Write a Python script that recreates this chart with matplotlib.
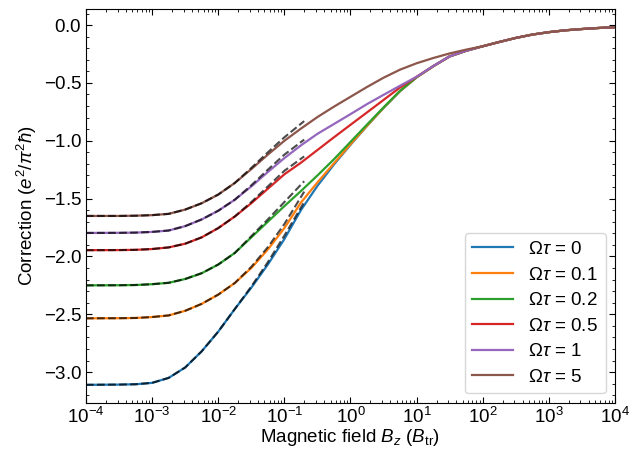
import numpy as np
import matplotlib
matplotlib.use('Agg')
import matplotlib.pyplot as plt

plt.rcParams['font.family'] = ['Liberation Sans', 'DejaVu Sans']
plt.rcParams['mathtext.fontset'] = 'custom'
plt.rcParams['mathtext.rm'] = 'Liberation Sans'
plt.rcParams['mathtext.it'] = 'Liberation Sans:italic'
plt.rcParams['axes.formatter.use_mathtext'] = True
plt.rcParams['font.size'] = 13.5

# field exponents (log10 of B_z / B_tr) for the solid curves
exps = [-4, -3.5, -3.25, -3, -2.75, -2.5, -2.25, -2, -1.75, -1.5, -1.25, -1, -0.75,
        -0.5, -0.25, 0, 0.25, 0.5, 0.75, 1, 1.25, 1.5, 1.75,
        2, 2.25, 2.5, 2.75, 3, 3.25, 3.5, 3.75, 4]

# high field tail, common to all curves (log10 B = 2 ... 4)
tail = [-0.183, -0.146, -0.111, -0.082, -0.061, -0.045, -0.034, -0.025, -0.018]

omega_labels = ['0', '0.1', '0.2', '0.5', '1', '5']

corr_0 = [-3.11, -3.108, -3.105, -3.093, -3.05, -2.96, -2.82, -2.65, -2.455, -2.27, -2.07, -1.85, -1.60,
          -1.39, -1.205, -1.035, -0.872, -0.716, -0.571, -0.452, -0.357, -0.271, -0.222] + tail
corr_01 = [-2.535, -2.534, -2.532, -2.524, -2.51, -2.47, -2.41, -2.33, -2.23, -2.10, -1.94, -1.755, -1.535,
           -1.36, -1.195, -1.03, -0.87, -0.715, -0.57, -0.452, -0.357, -0.271, -0.222] + tail
corr_02 = [-2.25, -2.249, -2.247, -2.24, -2.228, -2.195, -2.145, -2.07, -1.97, -1.835, -1.70, -1.565, -1.435,
           -1.30, -1.16, -1.01, -0.86, -0.712, -0.568, -0.45, -0.355, -0.27, -0.222] + tail
corr_05 = [-1.946, -1.945, -1.943, -1.936, -1.922, -1.89, -1.835, -1.755, -1.655, -1.54, -1.415, -1.29, -1.19,
           -1.08, -0.97, -0.862, -0.755, -0.647, -0.539, -0.447, -0.355, -0.27, -0.222] + tail
corr_1 = [-1.797, -1.796, -1.794, -1.788, -1.776, -1.738, -1.68, -1.605, -1.51, -1.395, -1.27, -1.15, -1.04,
          -0.94, -0.855, -0.77, -0.683, -0.603, -0.524, -0.447, -0.355, -0.27, -0.222] + tail
corr_5 = [-1.65, -1.65, -1.648, -1.643, -1.632, -1.595, -1.54, -1.465, -1.365, -1.245, -1.12, -1.0, -0.895,
          -0.795, -0.705, -0.62, -0.535, -0.455, -0.385, -0.33, -0.285, -0.245, -0.212] + tail

# low field asymptotes (dashed), up to B ~ 0.2
exps_low = [-4, -3.5, -3.25, -3, -2.75, -2.5, -2.25, -2, -1.75, -1.5, -1.25, -1, -0.7]
low_0 = [-3.11, -3.108, -3.105, -3.093, -3.05, -2.96, -2.82, -2.65, -2.455, -2.26, -2.05, -1.82, -1.53]
low_01 = [-2.535, -2.534, -2.532, -2.524, -2.51, -2.47, -2.41, -2.33, -2.23, -2.09, -1.92, -1.72, -1.44]
low_02 = [-2.25, -2.249, -2.247, -2.24, -2.228, -2.195, -2.145, -2.07, -1.97, -1.825, -1.68, -1.53, -1.35]
low_05 = [-1.946, -1.945, -1.943, -1.936, -1.922, -1.89, -1.835, -1.755, -1.655, -1.53, -1.395, -1.26, -1.135]
low_1 = [-1.797, -1.796, -1.794, -1.788, -1.776, -1.738, -1.68, -1.605, -1.51, -1.385, -1.25, -1.12, -0.99]
low_5 = [-1.65, -1.65, -1.648, -1.643, -1.632, -1.595, -1.54, -1.465, -1.365, -1.235, -1.10, -0.97, -0.83]

B = 10.0 ** np.array(exps)
B_low = 10.0 ** np.array(exps_low)

curves = [corr_0, corr_01, corr_02, corr_05, corr_1, corr_5]
lows = [low_0, low_01, low_02, low_05, low_1, low_5]

fig = plt.figure(figsize=(6.39, 4.49), dpi=100)
ax = fig.add_axes([0.1346, 0.1031, 0.9624 - 0.1346, 0.9793 - 0.1031])

for i, (c, lab) in enumerate(zip(curves, omega_labels)):
    ax.plot(B, c, color='C%d' % i, lw=1.6, label=r'$\Omega\tau$ = ' + lab)
for lo in lows:
    ax.plot(B_low, lo, color='k', ls='--', lw=1.5, alpha=0.7)

ax.set_xscale('log')
ax.set_xlim(1e-4, 1e4)
ax.set_xticks([10.0 ** k for k in range(-4, 5)])
ax.yaxis.set_minor_locator(matplotlib.ticker.MultipleLocator(0.1))
ax.tick_params(which='both', direction='in', top=True, right=True, labelsize=13.5)
ax.tick_params(which='major', length=4, pad=3)
ax.tick_params(which='minor', length=2)
ax.set_xlabel(r'Magnetic field $B_z$ ($B_{\rm tr}$)', labelpad=0)
ax.set_ylabel(r'Correction ($e^2/\pi^2\hbar$)', labelpad=3)
ax.legend(loc='lower right', fontsize=13.5, handlelength=2.2, labelspacing=0.45)

fig.savefig('out.png', dpi=100)
